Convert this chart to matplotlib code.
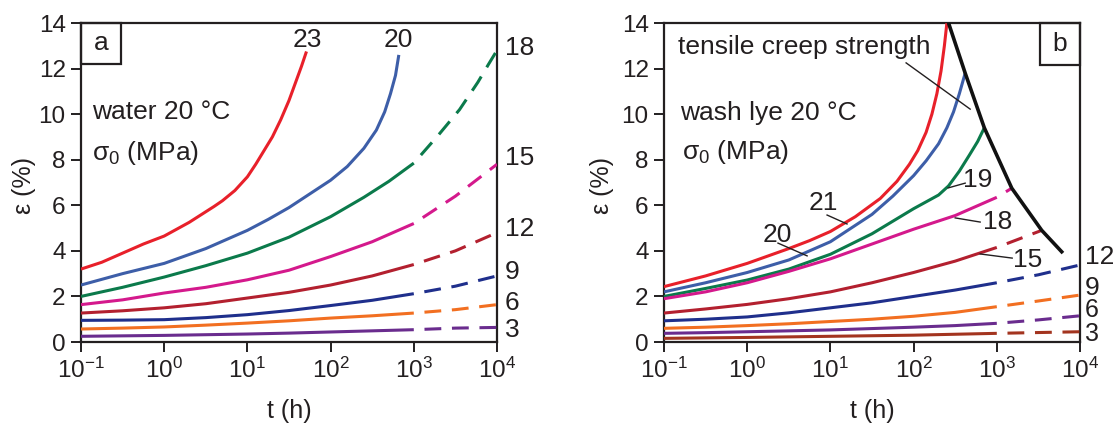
import numpy as np
import matplotlib
matplotlib.use("Agg")
import matplotlib.pyplot as plt
from matplotlib.patches import Rectangle

plt.rcParams['font.family'] = ['Liberation Sans', 'DejaVu Sans']
plt.rcParams['mathtext.fontset'] = 'custom'
plt.rcParams['mathtext.rm'] = 'Liberation Sans'
plt.rcParams['mathtext.it'] = 'Liberation Sans'
plt.rcParams['mathtext.bf'] = 'Liberation Sans:bold'

# ---------------- data: panel a (water 20 °C) ----------------
a_stress = [23, 20, 18, 15, 12, 9, 6, 3]
a_colors = ['#e8202a', '#3d5ea8', '#0b7a4b', '#d4198c', '#b3202f', '#1f2f8c', '#f26f21', '#6a2c8e']
a_logt_23 = [-1, -0.75, -0.5, -0.25, 0, 0.15, 0.3, 0.45, 0.6, 0.7, 0.85, 1.0, 1.1, 1.2, 1.3, 1.4, 1.5, 1.58, 1.65, 1.71]
a_eps_23 = [3.2, 3.5, 3.9, 4.3, 4.65, 4.95, 5.25, 5.6, 5.95, 6.2, 6.65, 7.25, 7.8, 8.4, 9.0, 9.75, 10.6, 11.4, 12.1, 12.75]
a_logt_20 = [-1, -0.5, 0, 0.5, 1.0, 1.25, 1.5, 1.75, 2.0, 2.2, 2.4, 2.55, 2.65, 2.72, 2.78, 2.82]
a_eps_20 = [2.5, 3.0, 3.45, 4.1, 4.9, 5.38, 5.9, 6.5, 7.1, 7.7, 8.5, 9.3, 10.1, 10.9, 11.7, 12.6]
a_logt_18 = [-1, -0.5, 0, 0.5, 1, 1.5, 2, 2.4, 2.7, 3, 3.3, 3.55, 3.77, 3.9, 4.0]
a_eps_18 = [2.0, 2.4, 2.85, 3.35, 3.9, 4.6, 5.5, 6.35, 7.05, 7.85, 9.1, 10.2, 11.4, 12.2, 12.8]
a_logt_15 = [-1, -0.5, 0, 0.5, 1, 1.5, 2, 2.5, 3, 3.5, 4]
a_eps_15 = [1.64, 1.85, 2.15, 2.4, 2.73, 3.15, 3.75, 4.4, 5.2, 6.4, 7.8]
a_logt_12 = [-1, -0.5, 0, 0.5, 1, 1.5, 2, 2.5, 3, 3.5, 4]
a_eps_12 = [1.27, 1.37, 1.5, 1.68, 1.93, 2.18, 2.5, 2.9, 3.4, 4.0, 4.8]
a_logt_9 = [-1, -0.5, 0, 0.5, 1, 1.5, 2, 2.5, 3, 3.5, 4]
a_eps_9 = [0.95, 0.96, 0.98, 1.07, 1.2, 1.38, 1.6, 1.83, 2.12, 2.45, 2.9]
a_logt_6 = [-1, -0.5, 0, 0.5, 1, 1.5, 2, 2.5, 3, 3.5, 4]
a_eps_6 = [0.57, 0.61, 0.66, 0.74, 0.83, 0.93, 1.05, 1.15, 1.27, 1.42, 1.64]
a_logt_3 = [-1, -0.5, 0, 0.5, 1, 1.5, 2, 2.5, 3, 3.5, 4]
a_eps_3 = [0.25, 0.27, 0.29, 0.32, 0.35, 0.39, 0.44, 0.49, 0.54, 0.61, 0.64]

# ---------------- data: panel b (wash lye 20 °C) ----------------
b_stress = [21, 20, 19, 18, 15, 12, 9, 6, 3]
b_colors = ['#e8202a', '#3d5ea8', '#0b7a4b', '#d4198c', '#b3202f', '#1f2f8c', '#f26f21', '#6a2c8e', '#a3341f']
b_logt_21 = [-1, -0.5, 0, 0.5, 0.75, 1.0, 1.3, 1.6, 1.8, 1.95, 2.05, 2.15, 2.22, 2.28, 2.33, 2.37, 2.40]
b_eps_21 = [2.43, 2.9, 3.45, 4.1, 4.45, 4.85, 5.5, 6.3, 7.05, 7.8, 8.4, 9.2, 10.0, 10.9, 11.9, 13.0, 14.0]
b_logt_20 = [-1, -0.5, 0, 0.5, 1.0, 1.5, 1.75, 2.0, 2.15, 2.3, 2.4, 2.48, 2.55, 2.62]
b_eps_20 = [2.2, 2.6, 3.05, 3.6, 4.4, 5.6, 6.4, 7.3, 7.95, 8.7, 9.4, 10.1, 10.9, 11.8]
b_logt_19 = [-1, -0.5, 0, 0.5, 1.0, 1.5, 1.75, 2.0, 2.3, 2.42, 2.55, 2.67, 2.77, 2.85]
b_eps_19 = [2.0, 2.35, 2.72, 3.2, 3.85, 4.75, 5.3, 5.85, 6.45, 6.85, 7.5, 8.2, 8.8, 9.4]
b_logt_18 = [-1, -0.5, 0, 0.5, 1.0, 1.5, 2.0, 2.5, 3.0, 3.18]
b_eps_18 = [1.9, 2.2, 2.6, 3.1, 3.65, 4.3, 4.95, 5.55, 6.35, 6.75]
b_logt_15 = [-1, -0.5, 0, 0.5, 1.0, 1.5, 2.0, 2.5, 3.0, 3.54]
b_eps_15 = [1.27, 1.45, 1.65, 1.9, 2.2, 2.6, 3.05, 3.55, 4.15, 4.9]
b_logt_12 = [-1, -0.5, 0, 0.5, 1, 1.5, 2, 2.5, 3, 3.5, 4]
b_eps_12 = [0.93, 1.0, 1.1, 1.28, 1.5, 1.72, 2.0, 2.28, 2.6, 2.95, 3.38]
b_logt_9 = [-1, -0.5, 0, 0.5, 1, 1.5, 2, 2.5, 3, 3.5, 4]
b_eps_9 = [0.6, 0.65, 0.72, 0.8, 0.9, 1.0, 1.13, 1.3, 1.55, 1.8, 2.06]
b_logt_6 = [-1, -0.5, 0, 0.5, 1, 1.5, 2, 2.5, 3, 3.5, 4]
b_eps_6 = [0.38, 0.41, 0.45, 0.49, 0.53, 0.59, 0.65, 0.72, 0.82, 0.97, 1.15]
b_logt_3 = [-1, 0, 1, 2, 3, 4]
b_eps_3 = [0.16, 0.2, 0.25, 0.3, 0.38, 0.45]
b_logt_strength = [2.42, 2.62, 2.85, 3.18, 3.54, 3.78]
b_eps_strength = [14.0, 11.8, 9.4, 6.75, 4.9, 3.96]

x_ticks = [0.1, 1, 10, 100, 1000, 10000]
x_ticklabels = [r'$\mathregular{10^{-1}}$', r'$\mathregular{10^{0}}$', r'$\mathregular{10^{1}}$',
                r'$\mathregular{10^{2}}$', r'$\mathregular{10^{3}}$', r'$\mathregular{10^{4}}$']
y_ticks = [0, 2, 4, 6, 8, 10, 12, 14]

TXT = '#231f20'
FS = 19
TFS = 17.5
LW = 2.2
DASH = (5.5, (5.5, 3.5))

a_series = [(a_logt_23, a_eps_23), (a_logt_20, a_eps_20), (a_logt_18, a_eps_18), (a_logt_15, a_eps_15),
            (a_logt_12, a_eps_12), (a_logt_9, a_eps_9), (a_logt_6, a_eps_6), (a_logt_3, a_eps_3)]
b_series = [(b_logt_21, b_eps_21), (b_logt_20, b_eps_20), (b_logt_19, b_eps_19), (b_logt_18, b_eps_18),
            (b_logt_15, b_eps_15), (b_logt_12, b_eps_12), (b_logt_9, b_eps_9), (b_logt_6, b_eps_6),
            (b_logt_3, b_eps_3)]

fig = plt.figure(figsize=(11.18, 4.23), dpi=100)
axa = fig.add_axes([81/1118, 81/423, 416/1118, 319/423])
axb = fig.add_axes([664/1118, 81/423, 416/1118, 319/423])


def draw_curve(ax, logt, eps, color, split=3.0):
    t = 10 ** np.array(logt, dtype=float)
    e = np.array(eps, dtype=float)
    lt = np.array(logt, dtype=float)
    solid = lt <= split
    ax.plot(t[solid], e[solid], color=color, lw=LW, solid_capstyle='butt',
            solid_joinstyle='round', zorder=3)
    dashed = lt >= split
    if dashed.sum() > 1:
        ax.plot(t[dashed], e[dashed], color=color, lw=LW, linestyle=DASH,
                dash_capstyle='butt', zorder=3)


for (lt, e), c in zip(a_series, a_colors):
    draw_curve(axa, lt, e, c)
for (lt, e), c in zip(b_series, b_colors):
    draw_curve(axb, lt, e, c)
axb.plot(10 ** np.array(b_logt_strength), b_eps_strength, color='#111111', lw=2.6,
         solid_joinstyle='round', zorder=4)

for ax in (axa, axb):
    ax.set_xscale('log')
    ax.set_xlim(0.1, 10000)
    ax.set_ylim(0, 14)
    ax.set_xticks(x_ticks)
    ax.set_xticklabels(x_ticklabels)
    ax.xaxis.set_minor_locator(matplotlib.ticker.NullLocator())
    ax.set_yticks(y_ticks)
    ax.tick_params(axis='both', direction='out', length=7, width=1.4, color=TXT,
                   labelsize=TFS, labelcolor=TXT)
    ax.tick_params(axis='x', pad=4)
    ax.tick_params(axis='y', pad=4)
    for s in ax.spines.values():
        s.set_linewidth(1.6)
        s.set_color(TXT)

# axis labels
for xc in (289, 872):
    fig.text(xc/1118, 1 - 411/423, 't (h)', ha='center', va='center', fontsize=18, color=TXT)
fig.text(24/1118, 1 - 185/423, 'ε (%)', rotation=90, ha='center', va='center', fontsize=18, color=TXT)
fig.text(602/1118, 1 - 185/423, 'ε (%)', rotation=90, ha='center', va='center', fontsize=18, color=TXT)

# panel a annotations
axa.add_patch(Rectangle((0, 0.871), 0.096, 0.129, transform=axa.transAxes, fill=False,
                        lw=1.6, edgecolor=TXT, zorder=5, clip_on=False))
axa.text(0.048, 0.936, 'a', transform=axa.transAxes, ha='center', va='center', fontsize=FS, color=TXT)
axa.text(0.026, 0.721, 'water 20 °C', transform=axa.transAxes, ha='left', va='center', fontsize=FS, color=TXT)
axa.text(0.026, 0.592, r'$\mathregular{σ_0}$ (MPa)', transform=axa.transAxes, ha='left', va='center',
         fontsize=FS, color=TXT)
axa.text(0.543, 0.947, '23', transform=axa.transAxes, ha='center', va='center', fontsize=FS, color=TXT)
axa.text(0.762, 0.947, '20', transform=axa.transAxes, ha='center', va='center', fontsize=FS, color=TXT)
for lab, yy in zip(['18', '15', '12', '9', '6', '3'], [0.922, 0.577, 0.354, 0.219, 0.122, 0.038]):
    axa.text(1.019, yy, lab, transform=axa.transAxes, ha='left', va='center', fontsize=FS, color=TXT,
             clip_on=False)

# panel b annotations
axb.add_patch(Rectangle((0.904, 0.868), 0.096, 0.132, transform=axb.transAxes, fill=False,
                        lw=1.6, edgecolor=TXT, zorder=5, clip_on=False))
axb.text(0.952, 0.934, 'b', transform=axb.transAxes, ha='center', va='center', fontsize=FS, color=TXT)
axb.text(0.034, 0.925, 'tensile creep strength', transform=axb.transAxes, ha='left', va='center',
         fontsize=FS, color=TXT)
axb.plot([0.582, 0.736], [0.875, 0.730], transform=axb.transAxes, color=TXT, lw=1.0, zorder=5)
axb.text(0.038, 0.718, 'wash lye 20 °C', transform=axb.transAxes, ha='left', va='center', fontsize=FS, color=TXT)
axb.text(0.043, 0.595, r'$\mathregular{σ_0}$ (MPa)', transform=axb.transAxes, ha='left', va='center',
         fontsize=FS, color=TXT)

inner = [('21', (0.382, 0.436), (0.392, 0.398), (0.440, 0.370)),
         ('20', (0.272, 0.335), (0.274, 0.310), (0.344, 0.270)),
         ('19', (0.755, 0.508), (0.724, 0.498), (0.683, 0.483)),
         ('18', (0.803, 0.376), (0.760, 0.376), (0.700, 0.389)),
         ('15', (0.873, 0.257), (0.837, 0.263), (0.760, 0.276))]
for lab, pos, p0, p1 in inner:
    axb.text(pos[0], pos[1], lab, transform=axb.transAxes, ha='center', va='center', fontsize=FS, color=TXT)
    axb.plot([p0[0], p1[0]], [p0[1], p1[1]], transform=axb.transAxes, color=TXT, lw=1.0, zorder=5)

for lab, yy, fs in zip(['12', '9', '6', '3'], [0.266, 0.168, 0.100, 0.024], [FS, FS, 18, 18]):
    axb.text(1.012, yy, lab, transform=axb.transAxes, ha='left', va='center', fontsize=fs, color=TXT,
             clip_on=False)

fig.savefig('out.png', dpi=100)
